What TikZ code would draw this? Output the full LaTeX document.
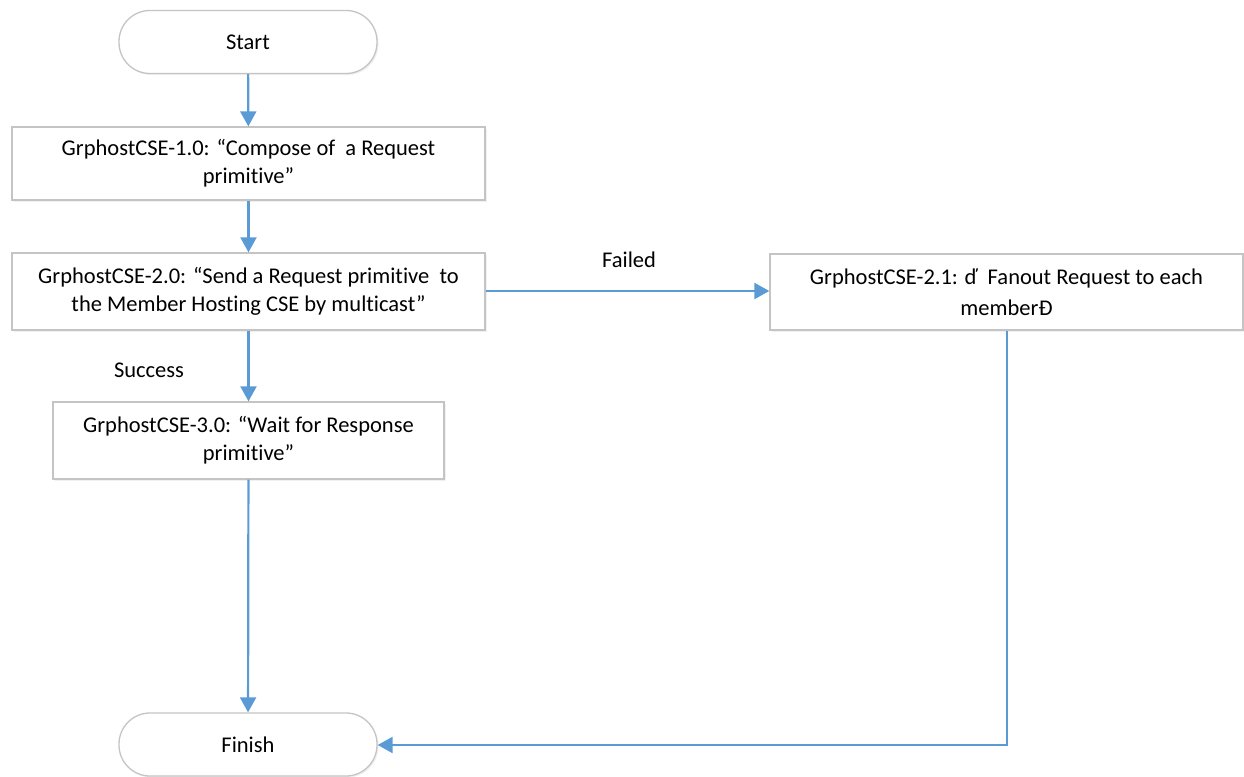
\documentclass[tikz,border=0pt]{standalone}
\usepackage{fontspec}
\setmainfont{Carlito}[Ligatures={NoCommon}]
\usetikzlibrary{arrows.meta,shadows}
\definecolor{conn}{HTML}{5B9BD5}
\definecolor{bord}{HTML}{C4C4C4}
\tikzset{
  boxstyle/.style={draw=bord, line width=1.3pt, fill=white, rectangle, inner sep=0pt, align=center,
    font=\fontsize{22.5}{28}\selectfont,
    drop shadow={opacity=0.12, shadow xshift=1.5pt, shadow yshift=-1.5pt}},
  termstyle/.style={boxstyle, rounded corners=31pt, minimum width=258pt, minimum height=63pt},
  conline/.style={draw=conn, line width=2.2pt, -{Triangle[length=15pt,width=16pt]}},
  lbl/.style={font=\fontsize{22.5}{28}\selectfont, inner sep=0pt}
}
\begin{document}
\begin{tikzpicture}[x=1pt,y=-1pt]
\useasboundingbox (0,0) rectangle (1244,776);
\node[termstyle] (start) at (248,42) {Start};
\node[boxstyle, minimum width=473pt, minimum height=73pt] (b1) at (248.5,163.5)
  {GrphostCSE-1.0: “Compose of \ a Request\\primitive”};
\node[boxstyle, minimum width=473pt, minimum height=77pt] (b2) at (248.5,291.5)
  {GrphostCSE-2.0: “Send a Request primitive \ to\\the Member Hosting CSE by multicast”};
\node[boxstyle, minimum width=391pt, minimum height=77pt] (b3) at (248.5,440.5)
  {GrphostCSE-3.0: “Wait for Response\\primitive”};
\node[boxstyle, minimum width=473pt, minimum height=76pt, font=\fontsize{22.5}{31}\selectfont] (b21) at (1006.5,292)
  {GrphostCSE-2.1: ď \ Fanout Request to each\\memberĐ};
\node[termstyle] (finish) at (248,744.5) {Finish};
\node[lbl] (failed) at (629,260) {Failed};
\node[lbl] (success) at (149,370) {Success};
\coordinate (corner) at (1007,745);
\draw[conline] (start) -- (b1);
\draw[conline] (b1) -- (b2);
\draw[conline] (b2) -- (b3);
\draw[conline] (b3) -- (finish);
\draw[conline] (b2.east |- 0,291) -- (b21.west |- 0,291);
\draw[conline] (b21.south -| corner) -- (corner) -- (finish.east |- corner);
\end{tikzpicture}
\end{document}
